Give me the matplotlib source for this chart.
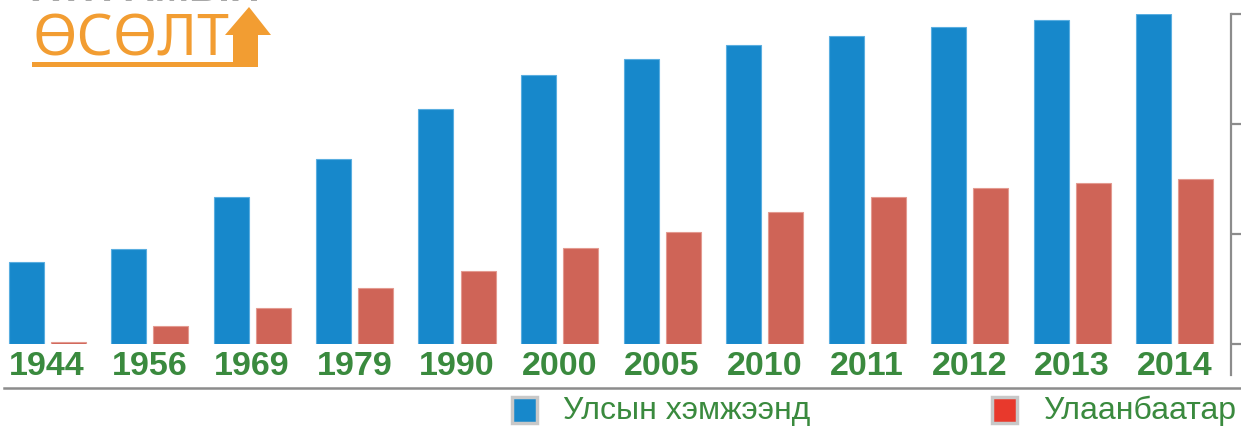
import numpy as np
import matplotlib.pyplot as plt
from matplotlib.patches import Polygon, Rectangle
from matplotlib.lines import Line2D
from matplotlib import font_manager

years = ['1944', '1956', '1969', '1979', '1990', '2000',
         '2005', '2010', '2011', '2012', '2013', '2014']
# population, thousand
national = [745, 864, 1336, 1682, 2136, 2445, 2591, 2718, 2800, 2882, 2945, 3000]
ulaanbaatar = [18, 164, 327, 509, 664, 873, 1018, 1200, 1336, 1418, 1464, 1500]
series_names = ['Улсын хэмжээнд', 'Улаанбаатар']

BLUE = '#1788cb'
RED = '#cf6457'
RED_LEG = '#e8392c'
GREEN = '#3a8a3e'
ORANGE = '#f29d32'

installed = {f.name for f in font_manager.fontManager.ttflist}
narrow = 'Liberation Sans Narrow' if 'Liberation Sans Narrow' in installed else 'Liberation Sans'

W, H = 1241, 426
fig = plt.figure(figsize=(W / 100, H / 100), dpi=100)
fig.patch.set_facecolor('white')


def fx(px):
    return px / W


def fy(py):
    return 1 - py / H


# axes: x from 0 to 1231 px, y from baseline 344 px up to 14 px
ax = fig.add_axes([0, fy(344), fx(1231), (344 - 14) / H])
x = np.arange(len(years))
step = 102.5
ax.set_xlim(-47 / step, (1231 - 47) / step)
ax.set_ylim(0, 3000)
bw = 35 / step
off = 21 / step
ax.bar(x - off, national, bw, color=BLUE, edgecolor='#5aaee0', linewidth=0.8)
ax.bar(x + off, ulaanbaatar, bw, color=RED, edgecolor='#e39a90', linewidth=0.8)

for s in ['top', 'left', 'bottom']:
    ax.spines[s].set_visible(False)
ax.spines['right'].set_color('#8c8c8c')
ax.spines['right'].set_linewidth(1.6)
ax.spines['right'].set_bounds(-280, 3000)
ax.yaxis.tick_right()
ax.set_yticks([0, 1000, 2000, 3000])
ax.tick_params(axis='y', direction='out', length=7.5, width=1.6,
               color='#8c8c8c', labelright=False)
ax.set_xticks(x)
ax.set_xticklabels(years, fontfamily='Liberation Sans', fontweight='bold',
                   fontsize=24.5, color=GREEN)
ax.tick_params(axis='x', length=0, pad=5)

# separator line under the year labels
fig.add_artist(Line2D([fx(4), 1], [fy(388), fy(388)], color='#8c8c8c', lw=1.8))

# legend
if narrow == 'Liberation Sans':
    leg_size = 23
else:
    leg_size = 27
for sx, col, tx, name in [(512, BLUE, 563, series_names[0]),
                          (992, RED_LEG, 1043, series_names[1])]:
    fig.add_artist(Rectangle((fx(sx), fy(423)), fx(25), 26 / H,
                             transform=fig.transFigure, facecolor=col,
                             edgecolor='#c8c8c8', lw=2.5))
    fig.text(fx(tx), fy(411), name, fontfamily=narrow, fontsize=leg_size,
             color=GREEN, va='center', ha='left')

# logo
fig.text(fx(33), fy(56), 'ӨСӨЛТ', fontfamily='Noto Sans', fontweight='light',
         fontsize=41, color=ORANGE, va='baseline', ha='left')
arrow = [(32, 62), (233, 62), (233, 35), (225, 35), (249, 7), (271, 35),
         (258, 35), (258, 67), (32, 67)]
fig.add_artist(Polygon([(fx(a), fy(b)) for a, b in arrow], closed=True,
                       transform=fig.transFigure, facecolor=ORANGE,
                       edgecolor='none'))
fig.text(fx(32), fy(1), 'ХҮН АМЫН', fontfamily='Liberation Sans',
         fontweight='bold', fontsize=30, color='#a8a8a8', va='baseline',
         ha='left')

fig.savefig('out.png', dpi=100)
